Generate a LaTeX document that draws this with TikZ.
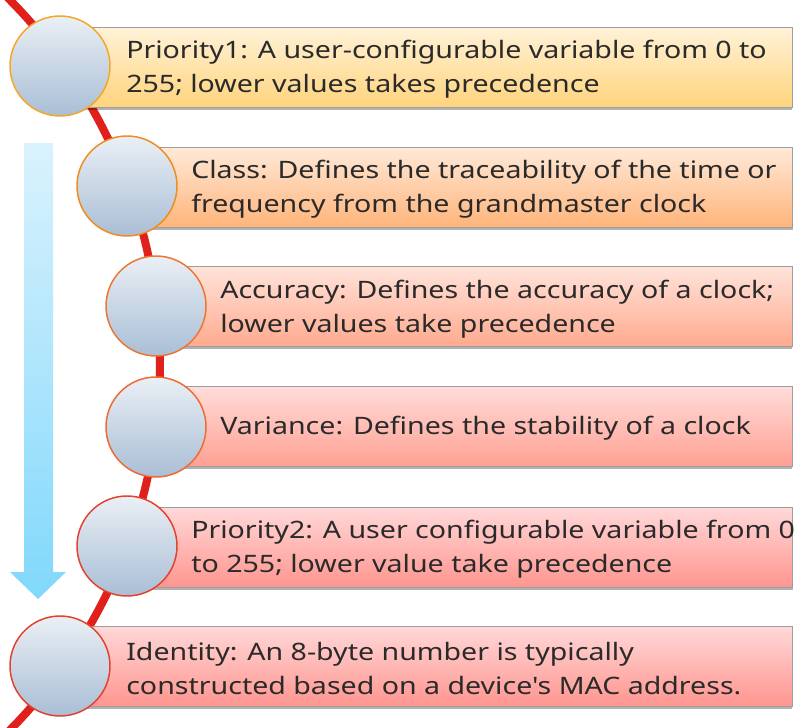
\documentclass[tikz,border=0pt]{standalone}
\usepackage{fontspec}
\newfontfamily\lblfont[FakeStretch=1.19]{Noto Sans}
\usetikzlibrary{shadows}
\definecolor{redline}{HTML}{E0201A}
\definecolor{txt}{HTML}{2A2A2A}
\definecolor{ctop}{HTML}{EAEFF5}
\definecolor{cbot}{HTML}{A9BED5}
\definecolor{bAt}{HTML}{FFF2D8}\definecolor{bAb}{HTML}{FFD47C}\definecolor{cA}{HTML}{F5A623}
\definecolor{bBt}{HTML}{FFE9D8}\definecolor{bBb}{HTML}{FFB47A}\definecolor{cB}{HTML}{F28A1E}
\definecolor{bCt}{HTML}{FFE3DA}\definecolor{bCb}{HTML}{FFAA8E}\definecolor{cC}{HTML}{EE7530}
\definecolor{bDt}{HTML}{FFDCDA}\definecolor{bDb}{HTML}{FFA092}\definecolor{cD}{HTML}{EE6A30}
\definecolor{bEt}{HTML}{FFD8D8}\definecolor{bEb}{HTML}{FF958F}\definecolor{cE}{HTML}{E4402A}
\definecolor{arrT}{HTML}{DAF2FD}\definecolor{arrB}{HTML}{80D8FB}
\tikzset{
  barbox/.style={rectangle, draw=black!38, line width=0.6pt, inner sep=0pt,
    minimum height=60pt, anchor=north west,
    drop shadow={shadow xshift=0pt, shadow yshift=-2.2pt, opacity=0.3, fill=black}},
  disc/.style={circle, inner sep=0pt, minimum size=75pt, line width=1.1pt,
    top color=ctop, bottom color=cbot},
  label/.style={anchor=west, align=left, inner sep=0pt, text=txt,
    font=\lblfont\fontsize{18}{25.5}\selectfont},
}
\begin{document}
\begin{tikzpicture}[x=0.75pt,y=-0.75pt]
\useasboundingbox (0,0) rectangle (794,728);
\clip (0,0) rectangle (794,728);
% blue arrow
\path[top color=arrT, bottom color=arrB, shading angle=0]
  (24,143) -- (53,143) -- (53,572) -- (66,572) -- (38,599) -- (10,572) -- (24,572) -- cycle;
% red curve
\draw[redline, line width=6pt, domain=-47:47, samples=120, smooth]
  plot ({-359+519*cos(\x)}, {365+519*sin(\x)});
% bars
\node[barbox, top color=bAt, bottom color=bAb, minimum width=549pt] (b1) at (60,27) {};
\node[barbox, top color=bBt, bottom color=bBb, minimum width=499pt] (b2) at (127,147) {};
\node[barbox, top color=bCt, bottom color=bCb, minimum width=477pt] (b3) at (156,266) {};
\node[barbox, top color=bDt, bottom color=bDb, minimum width=477pt] (b4) at (156,386) {};
\node[barbox, top color=bEt, bottom color=bEb, minimum width=499pt] (b5) at (127,507) {};
\node[barbox, top color=bEt, bottom color=bEb, minimum width=549pt] (b6) at (60,626) {};
% circles
\node[disc, draw=cA] (c1) at (60,66) {};
\node[disc, draw=cB] (c2) at (127,186) {};
\node[disc, draw=cC] (c3) at (156,306) {};
\node[disc, draw=cD] (c4) at (156,427) {};
\node[disc, draw=cE] (c5) at (127,546) {};
\node[disc, draw=cE] (c6) at (60,666) {};
% texts
\node[label] (t1) at (126,69) {Priority1: A user-configurable variable from 0 to\\255; lower values takes precedence};
\node[label] (t2) at (191,189) {Class: Defines the traceability of the time or\\frequency from the grandmaster clock};
\node[label] (t3) at (220,309) {Accuracy: Defines the accuracy of a clock;\\lower values take precedence};
\node[label] (t4) at (220,428) {Variance: Defines the stability of a clock};
\node[label] (t5) at (191,549) {Priority2: A user configurable variable from 0\\to 255; lower value take precedence};
\node[label] (t6) at (126,669) {Identity: An 8-byte number is typically\\constructed based on a device's MAC address.};
\end{tikzpicture}
\end{document}
